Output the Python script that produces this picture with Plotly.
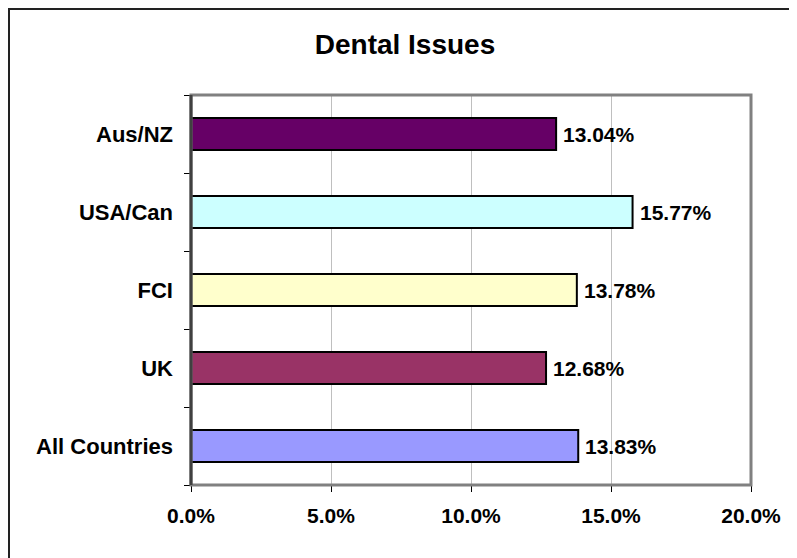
import plotly.graph_objects as go

categories = ["Aus/NZ", "USA/Can", "FCI", "UK", "All Countries"]
values = [0.1304, 0.1577, 0.1378, 0.1268, 0.1383]
value_labels = ["13.04%", "15.77%", "13.78%", "12.68%", "13.83%"]
bar_colors = ["#660066", "#CCFFFF", "#FFFFCC", "#993366", "#9999FF"]
x_ticks = [0, 0.05, 0.10, 0.15, 0.20]
x_tick_labels = ["0.0%", "5.0%", "10.0%", "15.0%", "20.0%"]

FONT = "Liberation Sans, Arial, sans-serif"
W, H = 789, 550
L, T, R, B = 183, 87, 46, 73
PW, PH = W - L - R, H - T - B

fig = go.Figure()
fig.add_trace(go.Bar(
    y=categories, x=values, orientation="h",
    marker=dict(color=bar_colors, line=dict(color="#000000", width=2)),
    hoverinfo="skip",
))

for c, v, t in zip(categories, values, value_labels):
    fig.add_annotation(x=v, y=c, xref="x", yref="y", text="<b>%s</b>" % t,
                       showarrow=False, xanchor="left", yanchor="middle",
                       xshift=5, font=dict(family=FONT, size=21, color="#000000"))

# plot area frame (gray) and left axis (dark)
fig.add_shape(type="rect", xref="paper", yref="paper", x0=0, x1=1, y0=0, y1=1,
              line=dict(color="#808080", width=3), layer="above")
fig.add_shape(type="line", xref="paper", yref="paper", x0=0, x1=0, y0=0, y1=1,
              line=dict(color="#404040", width=3), layer="above")
# outer chart border
fig.add_shape(type="rect", xref="paper", yref="paper",
              x0=(1 - L) / PW, x1=1.3, y0=-0.4, y1=(T + PH - 1) / PH,
              line=dict(color="#222222", width=2), layer="above")

fig.update_layout(
    width=W, height=H,
    margin=dict(l=L, r=R, t=T, b=B, autoexpand=False),
    paper_bgcolor="#FFFFFF", plot_bgcolor="#FFFFFF",
    showlegend=False,
    bargap=0.59,
    title=dict(text="<b>Dental Issues</b>", x=397 / W, xref="container",
               xanchor="center", y=1 - 36 / H, yref="container", yanchor="middle",
               font=dict(family=FONT, size=28, color="#000000")),
    xaxis=dict(range=[0, 0.2], tickvals=x_ticks, ticktext=["<b>%s</b>" % s for s in x_tick_labels],
               showgrid=True, gridcolor="#BFBFBF", gridwidth=1, automargin=False,
               ticks="outside", ticklen=6, tickcolor="#000000", tickwidth=1,
               showline=False, zeroline=False, ticklabelstandoff=6,
               tickfont=dict(family=FONT, size=21, color="#000000"), fixedrange=True),
    yaxis=dict(categoryorder="array", categoryarray=categories, autorange="reversed",
               tickmode="array", tickvals=categories, automargin=False,
               ticktext=["<b>%s</b>" % s for s in categories],
               tickson="boundaries", ticks="outside", ticklen=6, tickcolor="#000000",
               showgrid=False, showline=False, zeroline=False, ticklabelstandoff=17,
               tickfont=dict(family=FONT, size=22, color="#000000"), fixedrange=True),
)

fig.write_html("out.html")
